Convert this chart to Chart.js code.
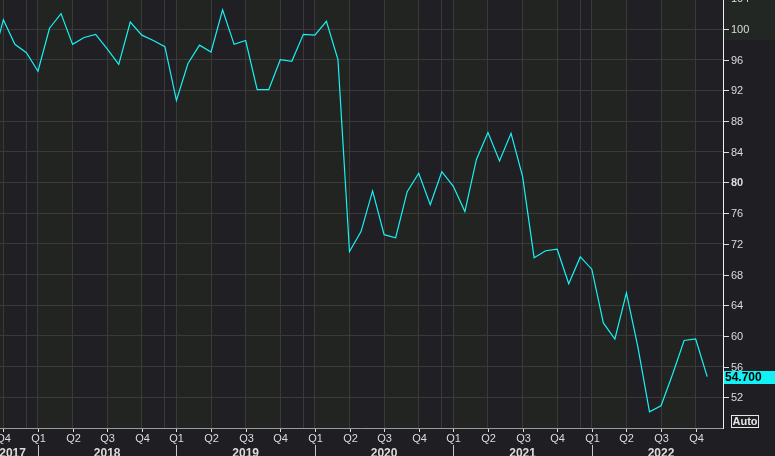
<!DOCTYPE html>
<html>
<head>
<meta charset="utf-8">
<script src="https://cdn.jsdelivr.net/npm/chart.js"></script>
<style>
  html, body { margin: 0; padding: 0; background: #1f1e22; overflow: hidden; }
  canvas { display: block; }
</style>
</head>
<body>
<canvas id="chart" width="775" height="456"></canvas>
<script>
// Monthly index readings, Sep 2017 .. Nov 2022 (month index -1 = Sep 2017, 0 = Oct 2017)
const firstMonth = -1;
const sentiment = [
  95.5, 101.2, 98.0, 96.9,
  94.5, 100.1, 102.0, 98.0, 98.9, 99.3, 97.4, 95.4, 100.9, 99.2, 98.5, 97.7,
  90.7, 95.5, 97.9, 97.0, 102.5, 98.0, 98.5, 92.1, 92.1, 96.0, 95.8, 99.3,
  99.2, 101.0, 96.0, 71.0, 73.6, 78.9, 73.2, 72.8, 78.8, 81.2, 77.1, 81.4,
  79.5, 76.2, 83.0, 86.5, 82.8, 86.4, 80.8, 70.2, 71.1, 71.3, 66.8, 70.3,
  68.7, 61.7, 59.6, 65.6, 58.5, 50.1, 50.9, 55.0, 59.4, 59.6, 54.7
];
// quarter ticks every 3 months starting at Oct 2017 (index 0)
const quarterLabels = [
  'Q4',
  'Q1', 'Q2', 'Q3', 'Q4',
  'Q1', 'Q2', 'Q3', 'Q4',
  'Q1', 'Q2', 'Q3', 'Q4',
  'Q1', 'Q2', 'Q3', 'Q4',
  'Q1', 'Q2', 'Q3', 'Q4'
];
const yearLabels = ['2017', '2018', '2019', '2020', '2021', '2022'];
const yTicks = [52, 56, 60, 64, 68, 72, 76, 80, 84, 88, 92, 96, 100, 104];
const lastValueText = '54.700';

const points = sentiment.map((v, i) => ({ x: firstMonth + i, y: v }));

const FONT = '"Liberation Sans", Arial, sans-serif';
const TEXT = '#dcdcdc';
const GRID = '#3a3a3b';

// alternating quarter bands behind the plot
const bandsPlugin = {
  id: 'bands',
  beforeDraw(chart) {
    const { ctx, chartArea: a, scales: { x } } = chart;
    ctx.save();
    ctx.fillStyle = '#1f1e22';
    ctx.fillRect(0, 0, chart.width, chart.height);
    ctx.fillStyle = '#232723';
    ctx.fillRect(a.right + 1, 0, chart.width - a.right, 40);
    for (let q = -3; q <= 63; q += 3) {
      const qi = ((q / 3) % 4 + 4) % 4; // 0 = Q4, 1 = Q1, 2 = Q2, 3 = Q3
      ctx.fillStyle = (qi === 1 || qi === 3) ? '#212420' : '#201f23';
      const x0 = Math.max(a.left, x.getPixelForValue(q));
      const x1 = Math.min(a.right, x.getPixelForValue(q + 3));
      if (x1 > x0) ctx.fillRect(x0, a.top, x1 - x0, a.bottom - a.top);
    }
    ctx.restore();
  }
};

// axis labels, value box and the small "Auto" box
const axesPlugin = {
  id: 'axes',
  afterDraw(chart) {
    const { ctx, chartArea: a, scales: { x, y } } = chart;
    ctx.save();

    // bottom axis line
    ctx.strokeStyle = '#9c9c9c';
    ctx.lineWidth = 1;
    ctx.beginPath();
    ctx.moveTo(0, a.bottom + 0.5);
    ctx.lineTo(a.right, a.bottom + 0.5);
    ctx.stroke();

    // right axis line
    ctx.strokeStyle = '#eeeeee';
    ctx.beginPath();
    ctx.moveTo(a.right + 0.5, 0);
    ctx.lineTo(a.right + 0.5, a.bottom + 1);
    ctx.stroke();

    // y labels
    ctx.textBaseline = 'middle';
    ctx.textAlign = 'left';
    yTicks.forEach(v => {
      const py = Math.round(y.getPixelForValue(v)) + 0.5;
      ctx.strokeStyle = TEXT;
      ctx.beginPath();
      ctx.moveTo(a.right + 1, py);
      ctx.lineTo(a.right + 6, py);
      ctx.stroke();
      ctx.fillStyle = TEXT;
      ctx.font = (v === 80 ? 'bold ' : '') + '11px ' + FONT;
      ctx.fillText(String(v), a.right + 8, py + 0.5);
    });

    // quarter ticks and labels
    ctx.textAlign = 'center';
    ctx.font = '11px ' + FONT;
    quarterLabels.forEach((lab, i) => {
      const px = Math.round(x.getPixelForValue(i * 3)) + 0.5;
      ctx.strokeStyle = TEXT;
      ctx.beginPath();
      ctx.moveTo(px, a.bottom + 1);
      ctx.lineTo(px, a.bottom + 4);
      ctx.stroke();
      ctx.fillStyle = TEXT;
      ctx.fillText(lab, px, a.bottom + 10.5);
    });

    // year separators and labels
    ctx.font = 'bold 12px ' + FONT;
    ctx.textBaseline = 'alphabetic';
    yearLabels.forEach((yr, i) => {
      const jan = 3 + (i - 1) * 12; // month index of January of that year
      if (i > 0) {
        const px = Math.round(x.getPixelForValue(jan)) + 0.5;
        ctx.strokeStyle = '#c8c8c8';
        ctx.beginPath();
        ctx.moveTo(px, a.bottom + 17);
        ctx.lineTo(px, chart.height);
        ctx.stroke();
        ctx.textAlign = 'center';
        ctx.fillStyle = TEXT;
        ctx.fillText(yr, x.getPixelForValue(jan + 6), chart.height + 0.5);
      } else {
        ctx.textAlign = 'right';
        ctx.fillStyle = TEXT;
        ctx.fillText(yr, x.getPixelForValue(3) - 12, chart.height + 0.5);
      }
    });

    // last value box
    const last = sentiment[sentiment.length - 1];
    const ly = y.getPixelForValue(last);
    ctx.fillStyle = '#12f2f6';
    ctx.fillRect(a.right + 1, Math.round(ly) - 6, chart.width - a.right, 13);
    ctx.fillStyle = '#000000';
    ctx.font = 'bold 12px ' + FONT;
    ctx.textAlign = 'left';
    ctx.textBaseline = 'middle';
    ctx.fillText(lastValueText, a.right + 2, Math.round(ly) + 1);

    // "Auto" box
    ctx.strokeStyle = '#e6e6e6';
    ctx.strokeRect(a.right + 8.5, a.bottom - 12.5, 27, 12);
    ctx.fillStyle = '#e6e6e6';
    ctx.font = 'bold 11px ' + FONT;
    ctx.textAlign = 'center';
    ctx.fillText('Auto', a.right + 22, a.bottom - 6);

    ctx.restore();
  }
};

const quarterTicks = quarterLabels.map((_, i) => i * 3);
const decTicks = yearLabels.slice(0, 5).map((_, i) => 2 + i * 12);

new Chart(document.getElementById('chart'), {
  type: 'line',
  data: {
    datasets: [{
      data: points,
      borderColor: '#16f2f6',
      borderWidth: 1.2,
      pointRadius: 0,
      tension: 0,
      fill: false
    }]
  },
  options: {
    responsive: false,
    animation: false,
    devicePixelRatio: 1,
    layout: { padding: 0 },
    plugins: { legend: { display: false }, tooltip: { enabled: false } },
    scales: {
      x: {
        type: 'linear',
        min: -0.29,
        max: 62.37,
        afterBuildTicks: s => { s.ticks = quarterTicks.concat(decTicks).map(v => ({ value: v })); },
        afterFit: s => { s.height = 28; },
        grid: { color: GRID, drawTicks: false },
        border: { display: false },
        ticks: { display: false }
      },
      y: {
        position: 'right',
        min: 48,
        max: 103.78,
        afterBuildTicks: s => { s.ticks = yTicks.filter(v => v < 103.78).map(v => ({ value: v })); },
        afterFit: s => { s.width = 52; },
        grid: { color: GRID, drawTicks: false },
        border: { display: false },
        ticks: { display: false }
      }
    }
  },
  plugins: [bandsPlugin, axesPlugin]
});
</script>
</body>
</html>
